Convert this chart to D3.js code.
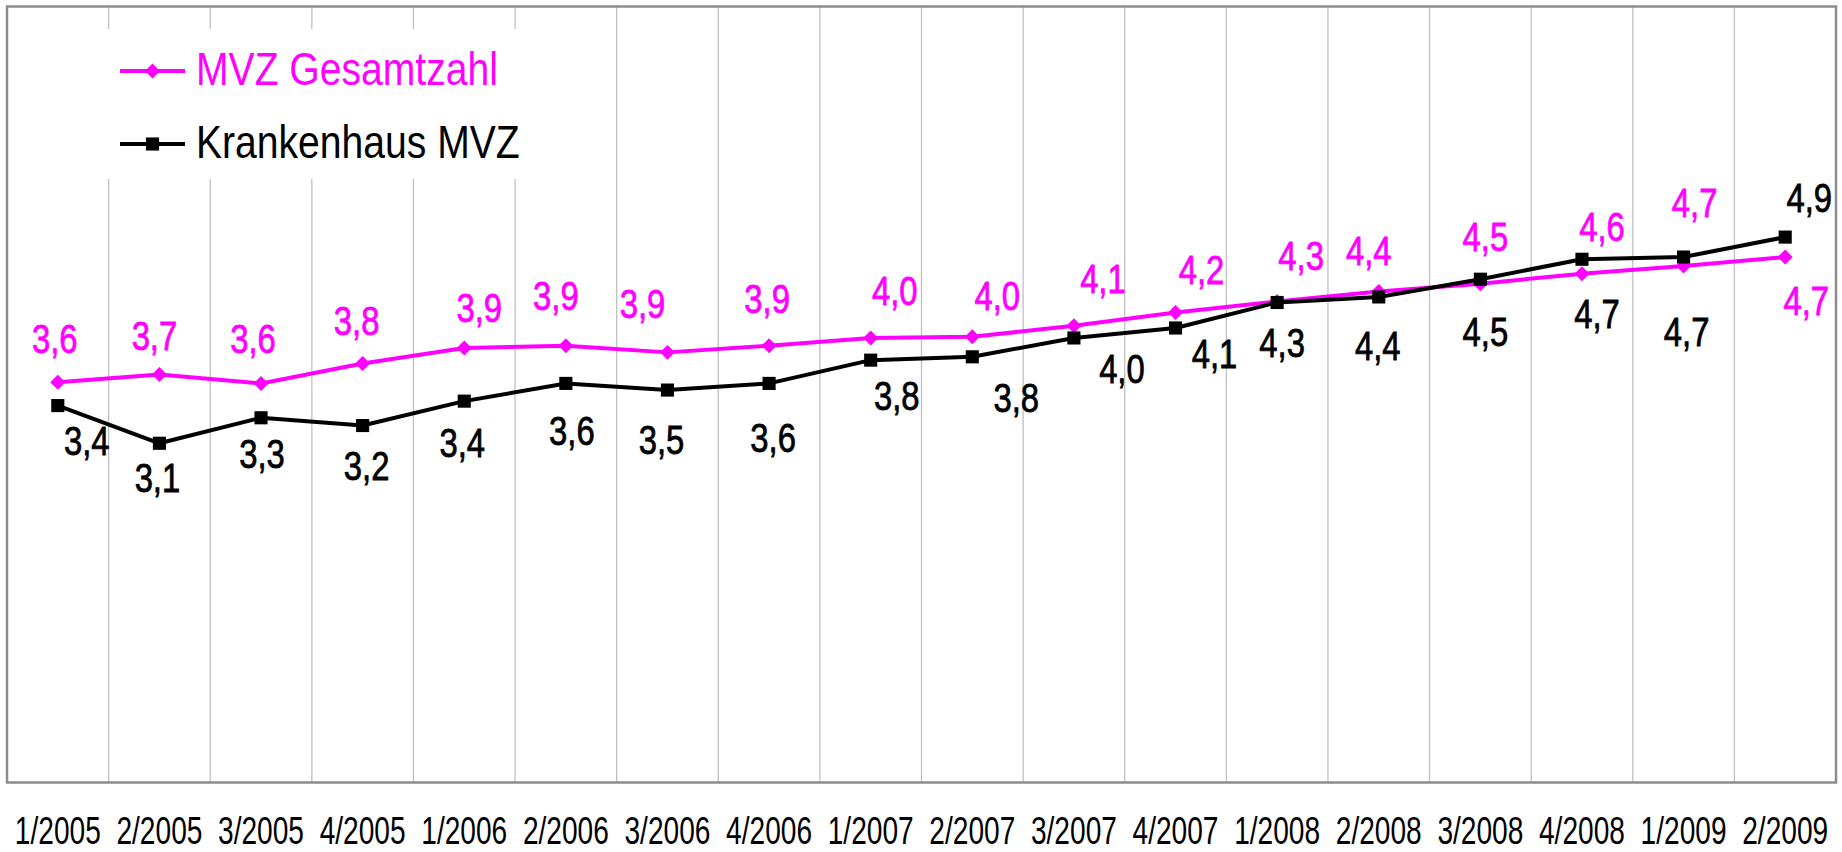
<!DOCTYPE html>
<html>
<head>
<meta charset="utf-8">
<script src="https://cdn.jsdelivr.net/npm/d3@7"></script>
<style>
  html, body { margin: 0; padding: 0; background: #fff; }
  svg { display: block; }
  text { font-family: "Liberation Sans", Arial, sans-serif; }
</style>
</head>
<body>
<svg id="chart" width="1842" height="852"></svg>
<script>
// ---- Data ----
const categories = ["1/2005","2/2005","3/2005","4/2005","1/2006","2/2006","3/2006","4/2006",
                    "1/2007","2/2007","3/2007","4/2007","1/2008","2/2008","3/2008","4/2008",
                    "1/2009","2/2009"];
const mvzGesamtzahl = [3.61, 3.68, 3.60, 3.78, 3.92, 3.94, 3.88, 3.94, 4.01, 4.02,
                       4.12, 4.24, 4.34, 4.43, 4.50, 4.59, 4.66, 4.74];
const krankenhausMvz = [3.40, 3.06, 3.29, 3.22, 3.44, 3.60, 3.54, 3.60, 3.81, 3.84,
                        4.01, 4.10, 4.33, 4.38, 4.54, 4.72, 4.74, 4.92];
const seriesNames = ["MVZ Gesamtzahl", "Krankenhaus MVZ"];
const yDomain = [0, 7];

// ---- Label nudges (layout only, px relative to each marker) ----
const gesamtLabelNudge = [[-3,-29],[-5,-25],[-8,-30],[-6,-28],[15,-26],[-10,-36],[-25,-34],[-2,-33],
  [24,-33],[25,-27],[29,-33],[26,-28],[24,-31],[-10,-26],[5,-33],[20,-33],[11,-49],[21,58]];
const khLabelNudge = [[29,49],[-2,49],[1,50],[4,54],[-2,56],[6,62],[-6,64],[4,69],
  [26,50],[44,55],[48,45],[39,40],[5,55],[-1,63],[5,67],[15,69],[3,89],[24,-25]];

// ---- Layout ----
const plot = { left: 7, right: 1836, top: 6.5, bottom: 782.5 };
const pink = "#ff00ff", black = "#000000";

const svg = d3.select("#chart");

const x = d3.scaleBand().domain(categories).range([plot.left, plot.right]).padding(0);
const y = d3.scaleLinear().domain(yDomain).range([plot.bottom, plot.top]);
const cx = c => x(c) + x.bandwidth() / 2;
const fmt = v => d3.format(".1f")(v).replace(".", ",");

// Vertical gridlines at category boundaries
svg.append("g").selectAll("line")
  .data(categories.slice(1))
  .join("line")
  .attr("x1", d => x(d)).attr("x2", d => x(d))
  .attr("y1", plot.top).attr("y2", plot.bottom)
  .attr("stroke", "#c0c0c0").attr("stroke-width", 1.3);

// Legend background (covers gridlines)
const legendBox = { x: 9, y: 29, w: 551, h: 150 };
svg.append("rect")
  .attr("x", legendBox.x).attr("y", legendBox.y)
  .attr("width", legendBox.w).attr("height", legendBox.h)
  .attr("fill", "#fff");

// Plot border
svg.append("rect")
  .attr("x", plot.left).attr("y", plot.top)
  .attr("width", plot.right - plot.left).attr("height", plot.bottom - plot.top)
  .attr("fill", "none").attr("stroke", "#8c8c8c").attr("stroke-width", 2.5);

// X axis labels
const xAxis = d3.axisBottom(x).tickSize(0).tickPadding(0);
const gx = svg.append("g").attr("transform", `translate(0,844)`).call(xAxis);
gx.select(".domain").remove();
gx.selectAll("text")
  .attr("y", 0).attr("dy", 0)
  .attr("transform", "scale(0.74,1)")
  .attr("fill", "#000")
  .style("font-family", '"Liberation Sans", Arial, sans-serif')
  .style("font-size", "38px");

const diamond = d3.symbol().type(d3.symbolSquare).size(112);
const square = d3.symbol().type(d3.symbolSquare).size(172);

const series = [
  { name: seriesNames[0], values: mvzGesamtzahl, color: pink, sym: diamond, rot: 45, nudge: gesamtLabelNudge },
  { name: seriesNames[1], values: krankenhausMvz, color: black, sym: square, rot: 0, nudge: khLabelNudge }
];

const line = d3.line().x((d, i) => cx(categories[i])).y(d => y(d));

series.forEach(s => {
  const g = svg.append("g");
  g.append("path")
    .datum(s.values)
    .attr("d", line)
    .attr("fill", "none")
    .attr("stroke", s.color)
    .attr("stroke-width", 4)
    .attr("stroke-linejoin", "round");
  g.selectAll("path.m")
    .data(s.values)
    .join("path")
    .attr("class", "m")
    .attr("d", s.sym)
    .attr("transform", (d, i) => `translate(${cx(categories[i])},${y(d)}) rotate(${s.rot})`)
    .attr("fill", s.color);
});

// Data labels
series.forEach(s => {
  svg.append("g").selectAll("text")
    .data(s.values)
    .join("text")
    .attr("transform", (d, i) => `translate(${cx(categories[i]) + s.nudge[i][0]},${y(d) + s.nudge[i][1]}) scale(0.8,1)`)
    .attr("text-anchor", "middle")
    .attr("fill", s.color)
    .attr("stroke", s.color)
    .attr("stroke-width", 0.8)
    .style("font-size", "41px")
    .text(d => fmt(d));
});

// Legend
const legendItems = [
  { name: seriesNames[0], color: pink, sym: diamond, rot: 45, yLine: 71, yText: 85 },
  { name: seriesNames[1], color: black, sym: square, rot: 0, yLine: 144, yText: 158 }
];
const lg = svg.append("g");
legendItems.forEach(it => {
  lg.append("line")
    .attr("x1", 120).attr("x2", 185)
    .attr("y1", it.yLine).attr("y2", it.yLine)
    .attr("stroke", it.color).attr("stroke-width", 4);
  lg.append("path")
    .attr("d", it.sym)
    .attr("transform", `translate(152.5,${it.yLine}) rotate(${it.rot})`)
    .attr("fill", it.color);
  lg.append("text")
    .attr("transform", `translate(196,${it.yText}) scale(0.85,1)`)
    .attr("fill", it.color)
    .style("font-size", "46px")
    .text(it.name);
});
</script>
</body>
</html>
